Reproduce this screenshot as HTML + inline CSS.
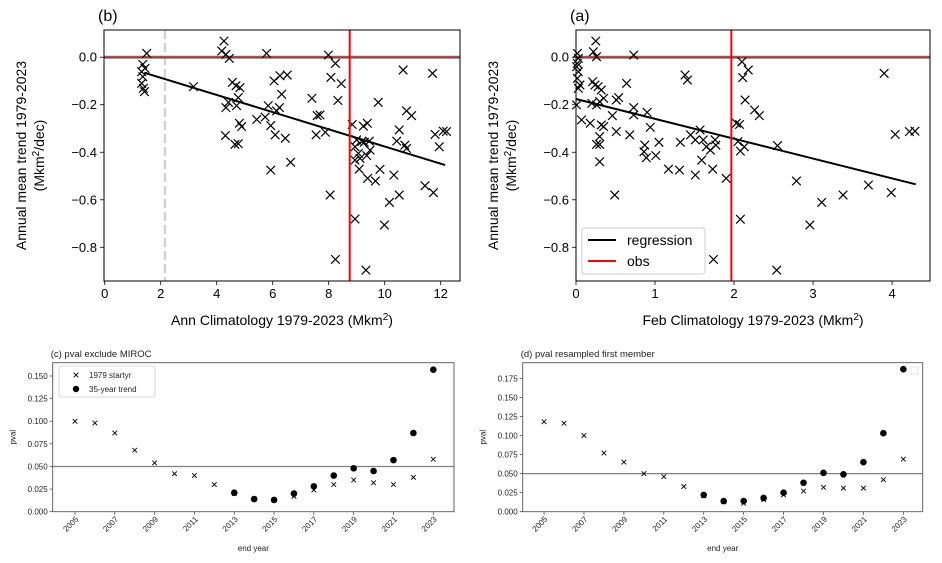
<!DOCTYPE html>
<html><head><meta charset="utf-8"><style>
body{margin:0;background:#fff}
svg{display:block;font-family:"Liberation Sans","DejaVu Sans",sans-serif}
</style></head><body>
<svg id="s" width="942" height="563" xmlns="http://www.w3.org/2000/svg"></svg>
<script>
// ---- Panel (b) data: Ann climatology vs trend
const bX=[1.50,1.36,1.44,1.32,1.36,1.32,1.38,1.42,4.26,4.18,4.33,4.45,5.78,7.99,8.24,10.66,11.71,8.08,8.45,6.05,6.26,6.52,4.56,4.69,4.83,3.17,6.32,7.40,8.33,9.77,4.77,4.42,4.33,4.71,5.84,6.24,6.14,5.43,5.73,7.59,7.69,10.78,10.96,4.81,4.89,5.93,6.09,6.45,4.31,4.65,4.77,7.55,7.88,8.84,9.24,9.38,10.52,11.80,12.09,12.21,11.95,9.00,9.18,9.27,9.45,10.43,10.72,10.78,9.06,9.36,9.48,8.94,9.09,9.39,9.67,9.83,10.33,5.93,6.64,8.05,10.52,10.17,11.44,11.74,8.94,9.99,8.24,9.33,8.94,9.12];
const bY=[0.016,-0.030,-0.047,-0.061,-0.082,-0.110,-0.131,-0.145,0.068,0.026,0.012,-0.005,0.016,0.009,-0.026,-0.054,-0.068,-0.085,-0.111,-0.100,-0.078,-0.075,-0.106,-0.120,-0.128,-0.124,-0.156,-0.173,-0.182,-0.190,-0.170,-0.190,-0.212,-0.204,-0.204,-0.212,-0.226,-0.262,-0.252,-0.246,-0.243,-0.226,-0.246,-0.278,-0.292,-0.288,-0.327,-0.341,-0.330,-0.367,-0.364,-0.327,-0.316,-0.283,-0.290,-0.278,-0.306,-0.325,-0.311,-0.313,-0.377,-0.348,-0.355,-0.358,-0.353,-0.353,-0.370,-0.384,-0.405,-0.414,-0.391,-0.433,-0.471,-0.510,-0.521,-0.472,-0.496,-0.475,-0.442,-0.580,-0.580,-0.611,-0.541,-0.570,-0.681,-0.706,-0.851,-0.896,-0.377,-0.426];
const bReg=[[1.41,-0.065],[12.16,-0.454]];
const bObs=8.75, bDash=2.15;
// ---- Panel (a) data: Feb climatology vs trend
const aX=[0.017,0.03,0.017,0.008,0.03,0.017,0.05,0.03,0.008,0.22,0.25,0.26,0.73,0.21,0.24,0.28,0.32,0.20,0.26,0.30,0.35,0.64,0.54,0.51,0.07,0.18,0.32,0.35,0.46,0.51,0.68,0.73,0.73,0.90,0.94,0.30,0.26,0.30,0.30,0.49,0.87,0.86,0.89,1.01,1.05,1.17,1.32,1.31,1.38,1.41,1.45,1.51,1.51,1.57,1.59,1.61,1.65,1.70,1.73,1.76,1.77,1.90,1.74,2.03,2.07,2.05,2.08,2.13,2.10,2.18,2.11,2.14,2.26,2.32,2.08,2.54,2.55,2.79,2.96,3.11,3.38,3.70,3.90,3.99,4.04,4.22,4.29];
const aY=[0.016,-0.005,-0.026,-0.040,-0.061,-0.089,-0.117,-0.131,-0.201,0.023,0.068,0.002,0.009,-0.103,-0.117,-0.124,-0.138,-0.194,-0.201,-0.187,-0.173,-0.110,-0.170,-0.180,-0.264,-0.278,-0.285,-0.292,-0.246,-0.313,-0.327,-0.212,-0.243,-0.232,-0.295,-0.334,-0.367,-0.367,-0.440,-0.580,-0.370,-0.398,-0.423,-0.414,-0.358,-0.471,-0.358,-0.475,-0.075,-0.096,-0.327,-0.348,-0.496,-0.306,-0.433,-0.348,-0.377,-0.391,-0.471,-0.348,-0.370,-0.510,-0.851,-0.278,-0.283,-0.355,-0.395,-0.377,-0.019,-0.054,-0.086,-0.180,-0.222,-0.246,-0.682,-0.896,-0.372,-0.521,-0.706,-0.611,-0.580,-0.538,-0.068,-0.570,-0.325,-0.313,-0.311];
const aReg=[[0,-0.176],[4.30,-0.535]];
const aObs=1.966;
// ---- Panel (c) / (d) pvals
const years=[2005,2006,2007,2008,2009,2010,2011,2012,2013,2014,2015,2016,2017,2018,2019,2020,2021,2022,2023];
const cCross=[0.100,0.098,0.087,0.068,0.054,0.042,0.040,0.030,0.020,0.014,0.013,0.017,0.024,0.030,0.035,0.032,0.030,0.038,0.058];
const dotYears=[2013,2014,2015,2016,2017,2018,2019,2020,2021,2022,2023];
const cDot=[0.021,0.014,0.013,0.020,0.028,0.040,0.048,0.045,0.057,0.087,0.157];
const dCross=[0.118,0.116,0.100,0.077,0.065,0.050,0.046,0.033,0.021,0.013,0.011,0.016,0.022,0.027,0.032,0.031,0.031,0.042,0.069];
const dDot=[0.022,0.014,0.014,0.018,0.025,0.038,0.051,0.049,0.065,0.103,0.187];
const topYTicks=[0,-0.2,-0.4,-0.6,-0.8];
const bXTicks=[0,2,4,6,8,10,12];
const aXTicks=[0,1,2,3,4];
const cYTicks=[0,0.025,0.05,0.075,0.1,0.125,0.15];
const dYTicks=[0,0.025,0.05,0.075,0.1,0.125,0.15,0.175];
const yearTicks=[2005,2007,2009,2011,2013,2015,2017,2019,2021,2023];

const S=document.getElementById('s');
const NS='http://www.w3.org/2000/svg';
function el(tag,attrs,parent,text){const e=document.createElementNS(NS,tag);for(const k in attrs)e.setAttribute(k,attrs[k]);if(text!==undefined)e.textContent=text;(parent||S).appendChild(e);return e;}
function scale(d0,d1,r0,r1){return v=>r0+(v-d0)/(d1-d0)*(r1-r0);}
function cross(g,x,y,r,w){const p=el('path',{d:`M${x-r},${y-r}L${x+r},${y+r}M${x-r},${y+r}L${x+r},${y-r}`,stroke:'#000','stroke-width':w,fill:'none'},g);}

function topPanel(o){
  const g=el('g',{});
  const X=scale(o.xd[0],o.xd[1],o.L,o.R), Y=scale(0,-0.8,57.2,247.3);
  o.xt.forEach(t=>{const x=X(t);el('line',{x1:x,x2:x,y1:o.B,y2:o.B+4,stroke:'#000','stroke-width':0.8},g);
    const tl=el('text',{x:x,y:o.B+17,'font-size':13,'text-anchor':'middle',fill:'#000'},g,String(t));});
  topYTicks.forEach(t=>{const y=Y(t);el('line',{x1:o.L-4,x2:o.L,y1:y,y2:y,stroke:'#000','stroke-width':0.8},g);
    const tl=el('text',{x:o.L-7,y:y+4.5,'font-size':13,'text-anchor':'end',fill:'#000'},g,t===0?'0.0':t.toFixed(1).replace('-','\u2212'));});
  if(o.dash!==undefined){const d=el('line',{x1:X(o.dash),x2:X(o.dash),y1:o.T,y2:o.B,stroke:'#d3d3d3','stroke-width':2.5,'stroke-dasharray':'9,4'},g);}
  el('line',{x1:o.L,x2:o.R,y1:Y(0),y2:Y(0),stroke:'#808080','stroke-width':3},g);
  el('line',{x1:o.L,x2:o.R,y1:Y(0),y2:Y(0),stroke:'#f00','stroke-width':1.2},g);
  o.xs.forEach((v,i)=>cross(g,X(v),Y(o.ys[i]),4.3,1.2));
  const r=el('line',{x1:X(o.reg[0][0]),y1:Y(o.reg[0][1]),x2:X(o.reg[1][0]),y2:Y(o.reg[1][1]),stroke:'#000','stroke-width':2},g);
  const ob=el('line',{x1:X(o.obs),x2:X(o.obs),y1:o.T,y2:o.B,stroke:'#f00','stroke-width':2},g);
  el('rect',{x:o.L,y:o.T,width:o.R-o.L,height:o.B-o.T,fill:'none',stroke:'#000','stroke-width':1},g);
  const ti=el('text',{x:o.L-6,y:21,'font-size':16,fill:'#000'},g,o.title);
  const xl=el('text',{x:(o.L+o.R)/2,y:o.B+44,'font-size':14,'text-anchor':'middle',fill:'#000'},g);
  xl.innerHTML=o.xlabel+' (Mkm<tspan dy="-5" font-size="10">2</tspan><tspan dy="5">)</tspan>';
  const cy=(o.T+o.B)/2;
  const yl=el('text',{x:0,y:0,'font-size':14,'text-anchor':'middle',fill:'#000',transform:`translate(${o.L-78},${cy}) rotate(-90)`},g,'Annual mean trend 1979-2023');
  const yl2=el('text',{x:0,y:0,'font-size':14,'text-anchor':'middle',fill:'#000',transform:`translate(${o.L-60},${cy}) rotate(-90)`},g);
  yl2.innerHTML='(Mkm<tspan dy="-5" font-size="10">2</tspan><tspan dy="5">/dec)</tspan>';
  return g;
}
topPanel({name:'panel-b',L:104,R:460,T:30,B:281,xd:[-0.025,12.69],xt:bXTicks,xs:bX,ys:bY,reg:bReg,obs:bObs,dash:bDash,title:'(b)',xlabel:'Ann Climatology 1979-2023'});
topPanel({name:'panel-a',L:576,R:930,T:30,B:281,xd:[0,4.48],xt:aXTicks,xs:aX,ys:aY,reg:aReg,obs:aObs,title:'(a)',xlabel:'Feb Climatology 1979-2023'});
const lg=el('g',{});
el('rect',{x:582,y:228,width:123,height:46,rx:3,fill:'#fff','fill-opacity':0.85,stroke:'#ccc'},lg);
el('line',{x1:588,x2:616,y1:240,y2:240,stroke:'#000','stroke-width':2},lg);
el('line',{x1:588,x2:616,y1:261,y2:261,stroke:'#f00','stroke-width':2},lg);
el('text',{x:627,y:245,'font-size':14,fill:'#000'},lg,'regression');
el('text',{x:627,y:266,'font-size':14,fill:'#000'},lg,'obs');

function botPanel(o){
  const g=el('g',{});
  const X=scale(o.xd[0],o.xd[1],o.L,o.R), Y=scale(0,o.ymax,o.B,o.T);
  o.yt.forEach(t=>{const y=Y(t);el('line',{x1:o.L-3,x2:o.L,y1:y,y2:y,stroke:'#333','stroke-width':0.7},g);
    const tl=el('text',{x:o.L-5,y:y+3,'font-size':8,'text-anchor':'end',fill:'#222'},g,t.toFixed(3));});
  yearTicks.forEach(t=>{const x=X(t);el('line',{x1:x,x2:x,y1:o.B,y2:o.B+3,stroke:'#333','stroke-width':0.7},g);
    const tl=el('text',{x:0,y:0,'font-size':8,'text-anchor':'end',fill:'#222',transform:`translate(${x+4},${o.B+8}) rotate(-45)`},g,String(t));});
  el('line',{x1:o.L,x2:o.R,y1:Y(0.05),y2:Y(0.05),stroke:'#808080','stroke-width':1.3},g);
  years.forEach((yr,i)=>cross(g,X(yr),Y(o.cr[i]),2.3,0.9));
  dotYears.forEach((yr,i)=>{const c=el('circle',{cx:X(yr),cy:Y(o.dt[i]),r:3.3,fill:'#000'},g);});
  el('rect',{x:o.L,y:o.T,width:o.R-o.L,height:o.B-o.T,fill:'none',stroke:'#555','stroke-width':0.9},g);
  const ti=el('text',{x:o.L-2,y:357,'font-size':9.5,fill:'#222'},g,o.title);
  const xl=el('text',{x:(o.L+o.R)/2,y:551,'font-size':8,'text-anchor':'middle',fill:'#222'},g,'end year');
  const yl=el('text',{x:0,y:0,'font-size':8,'text-anchor':'middle',fill:'#222',transform:`translate(${o.L-37},${(o.T+o.B)/2}) rotate(-90)`},g,'pval');
  return g;
}
botPanel({name:'panel-c',L:52.7,R:454,T:362.7,B:511.7,xd:[2003.88,2024.04],ymax:0.1647,yt:cYTicks,cr:cCross,dt:cDot,title:'(c) pval exclude MIROC'});
botPanel({name:'panel-d',L:522.7,R:922.7,T:362.7,B:511.7,xd:[2003.93,2023.97],ymax:0.1955,yt:dYTicks,cr:dCross,dt:dDot,title:'(d) pval resampled first member'});
const lc=el('g',{});
el('rect',{x:59,y:366,width:96,height:31,rx:2,fill:'#fff',stroke:'#ccc','stroke-width':0.8},lc);
cross(lc,76,375,2.3,0.9);
el('circle',{cx:76,cy:389,r:3.2,fill:'#000'},lc);
el('text',{x:89,y:378,'font-size':8,fill:'#222'},lc,'1979 startyr');
el('text',{x:89,y:392,'font-size':8,fill:'#222'},lc,'35-year trend');
const ld=el('rect',{x:911,y:367,width:7,height:7,fill:'#fff',stroke:'#ddd','stroke-width':0.8});
</script>
</body></html>
